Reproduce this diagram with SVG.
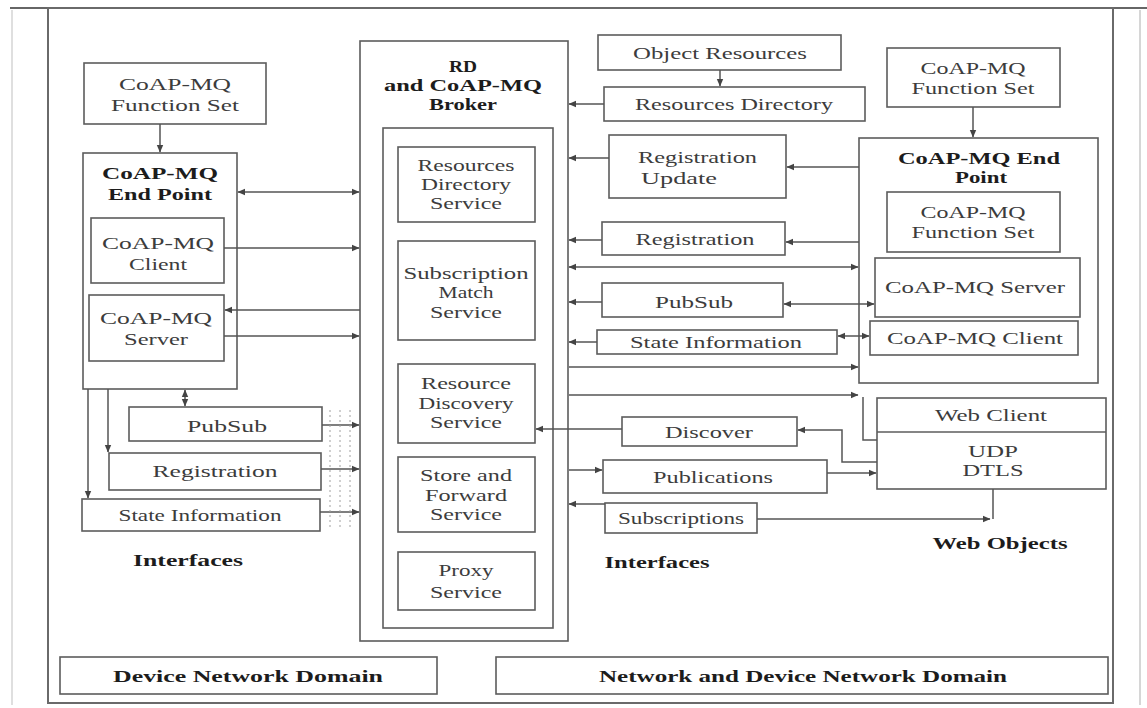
<svg xmlns="http://www.w3.org/2000/svg" width="1147" height="708" viewBox="0 0 1147 708">
  <style>
    .frame { fill: none; stroke: #6a6a6a; stroke-width: 2; }
    .box { fill: none; stroke: #5c5c5c; stroke-width: 1.6; }
    .c { fill: none; stroke: #555; stroke-width: 1.5; }
    .hatch { fill: none; stroke: #a0a0a0; stroke-width: 1; stroke-dasharray: 2 3; }
    .t { font-family: "Liberation Serif", "Times New Roman", serif; font-size: 17px; fill: #3c3c3c; text-anchor: middle; }
    .l { text-anchor: start; }
    .b { font-weight: bold; fill: #1c1c1c; }
  </style>
  <defs>
    <marker id="arr" markerUnits="userSpaceOnUse" markerWidth="8" markerHeight="8" refX="7" refY="4" orient="auto-start-reverse">
      <path d="M0,0.8 L7.5,4 L0,7.2 z" fill="#444"/>
    </marker>
  </defs>

  <rect width="1147" height="708" fill="#ffffff"/>

  <!-- page frame -->
  <g id="frame">
    <line x1="10" y1="8" x2="1147" y2="8" stroke="#666" stroke-width="2.2"/>
    <line x1="12" y1="10" x2="12" y2="705" stroke="#d4d4d4" stroke-width="1.5"/>
    <line x1="1140" y1="10" x2="1140" y2="705" stroke="#c8c8c8" stroke-width="1.5"/>
    <rect class="frame" x="48" y="8" width="1065" height="695"/>
  </g>

  <!-- left device side -->
  <g id="left-function-set">
    <rect class="box" x="84" y="63" width="182" height="61"/>
    <text class="t" x="175" y="90" textLength="112" lengthAdjust="spacingAndGlyphs">CoAP-MQ</text>
    <text class="t" x="175" y="111" textLength="128" lengthAdjust="spacingAndGlyphs">Function Set</text>
  </g>
  <g id="left-end-point">
    <rect class="box" x="83" y="153" width="154" height="236"/>
    <text class="t b" x="160" y="179" textLength="116" lengthAdjust="spacingAndGlyphs">CoAP-MQ</text>
    <text class="t b" x="160" y="200" textLength="104" lengthAdjust="spacingAndGlyphs">End Point</text>
  </g>
  <g id="left-client">
    <rect class="box" x="91" y="218" width="133" height="65"/>
    <text class="t" x="158" y="249" textLength="112" lengthAdjust="spacingAndGlyphs">CoAP-MQ</text>
    <text class="t" x="158" y="270" textLength="58" lengthAdjust="spacingAndGlyphs">Client</text>
  </g>
  <g id="left-server">
    <rect class="box" x="89" y="295" width="135" height="66"/>
    <text class="t" x="156" y="324" textLength="112" lengthAdjust="spacingAndGlyphs">CoAP-MQ</text>
    <text class="t" x="156" y="345" textLength="64" lengthAdjust="spacingAndGlyphs">Server</text>
  </g>
  <g id="left-pubsub">
    <rect class="box" x="129" y="407" width="193" height="34"/>
    <text class="t" x="227" y="432" textLength="80" lengthAdjust="spacingAndGlyphs">PubSub</text>
  </g>
  <g id="left-registration">
    <rect class="box" x="109" y="453" width="212" height="37"/>
    <text class="t" x="215" y="477" textLength="125" lengthAdjust="spacingAndGlyphs">Registration</text>
  </g>
  <g id="left-state-information">
    <rect class="box" x="82" y="499" width="238" height="32"/>
    <text class="t" x="200" y="521" textLength="163" lengthAdjust="spacingAndGlyphs">State Information</text>
  </g>
  <g id="left-interfaces-label">
    <text class="t b" x="188" y="566" textLength="110" lengthAdjust="spacingAndGlyphs">Interfaces</text>
  </g>

  <!-- broker -->
  <g id="broker">
    <rect class="box" x="360" y="41" width="208" height="600"/>
    <text class="t b" x="463" y="72" textLength="28" lengthAdjust="spacingAndGlyphs">RD</text>
    <text class="t b" x="463" y="91" textLength="158" lengthAdjust="spacingAndGlyphs">and CoAP-MQ</text>
    <text class="t b" x="463" y="110" textLength="68" lengthAdjust="spacingAndGlyphs">Broker</text>
    <rect class="box" x="383" y="128" width="170" height="500"/>
  </g>
  <g id="resource-directory-service">
    <rect class="box" x="398" y="147" width="137" height="75"/>
    <text class="t" x="466" y="171" textLength="97" lengthAdjust="spacingAndGlyphs">Resources</text>
    <text class="t" x="466" y="190" textLength="90" lengthAdjust="spacingAndGlyphs">Directory</text>
    <text class="t" x="466" y="209" textLength="72" lengthAdjust="spacingAndGlyphs">Service</text>
  </g>
  <g id="subscription-match-service">
    <rect class="box" x="398" y="241" width="137" height="99"/>
    <text class="t" x="466" y="279" textLength="125" lengthAdjust="spacingAndGlyphs">Subscription</text>
    <text class="t" x="466" y="298" textLength="55" lengthAdjust="spacingAndGlyphs">Match</text>
    <text class="t" x="466" y="318" textLength="72" lengthAdjust="spacingAndGlyphs">Service</text>
  </g>
  <g id="resource-discovery-service">
    <rect class="box" x="398" y="364" width="137" height="79"/>
    <text class="t" x="466" y="389" textLength="90" lengthAdjust="spacingAndGlyphs">Resource</text>
    <text class="t" x="466" y="409" textLength="95" lengthAdjust="spacingAndGlyphs">Discovery</text>
    <text class="t" x="466" y="428" textLength="72" lengthAdjust="spacingAndGlyphs">Service</text>
  </g>
  <g id="store-forward-service">
    <rect class="box" x="398" y="457" width="137" height="75"/>
    <text class="t" x="466" y="481" textLength="92" lengthAdjust="spacingAndGlyphs">Store and</text>
    <text class="t" x="466" y="501" textLength="82" lengthAdjust="spacingAndGlyphs">Forward</text>
    <text class="t" x="466" y="520" textLength="72" lengthAdjust="spacingAndGlyphs">Service</text>
  </g>
  <g id="proxy-service">
    <rect class="box" x="398" y="552" width="137" height="58"/>
    <text class="t" x="466" y="576" textLength="55" lengthAdjust="spacingAndGlyphs">Proxy</text>
    <text class="t" x="466" y="598" textLength="72" lengthAdjust="spacingAndGlyphs">Service</text>
  </g>

  <!-- network-side interfaces -->
  <g id="object-resources">
    <rect class="box" x="598" y="35" width="243" height="35"/>
    <text class="t" x="720" y="59" textLength="174" lengthAdjust="spacingAndGlyphs">Object Resources</text>
  </g>
  <g id="resources-directory">
    <rect class="box" x="604" y="87" width="261" height="34"/>
    <text class="t" x="734" y="110" textLength="198" lengthAdjust="spacingAndGlyphs">Resources Directory</text>
  </g>
  <g id="registration-update">
    <rect class="box" x="609" y="135" width="177" height="63"/>
    <text class="t l" x="638" y="163" textLength="119" lengthAdjust="spacingAndGlyphs">Registration</text>
    <text class="t l" x="641" y="184" textLength="76" lengthAdjust="spacingAndGlyphs">Update</text>
  </g>
  <g id="right-registration">
    <rect class="box" x="602" y="222" width="183" height="33"/>
    <text class="t" x="695" y="245" textLength="119" lengthAdjust="spacingAndGlyphs">Registration</text>
  </g>
  <g id="right-pubsub">
    <rect class="box" x="602" y="283" width="181" height="34"/>
    <text class="t" x="694" y="308" textLength="78" lengthAdjust="spacingAndGlyphs">PubSub</text>
  </g>
  <g id="right-state-information">
    <rect class="box" x="597" y="330" width="240" height="24"/>
    <text class="t" x="716" y="348" textLength="172" lengthAdjust="spacingAndGlyphs">State Information</text>
  </g>
  <g id="discover">
    <rect class="box" x="622" y="417" width="175" height="29"/>
    <text class="t" x="709" y="438" textLength="88" lengthAdjust="spacingAndGlyphs">Discover</text>
  </g>
  <g id="publications">
    <rect class="box" x="603" y="460" width="224" height="33"/>
    <text class="t" x="713" y="483" textLength="120" lengthAdjust="spacingAndGlyphs">Publications</text>
  </g>
  <g id="subscriptions">
    <rect class="box" x="605" y="503" width="152" height="30"/>
    <text class="t" x="681" y="524" textLength="126" lengthAdjust="spacingAndGlyphs">Subscriptions</text>
  </g>
  <g id="right-interfaces-label">
    <text class="t b" x="657" y="568" textLength="105" lengthAdjust="spacingAndGlyphs">Interfaces</text>
  </g>

  <!-- right device side -->
  <g id="right-function-set">
    <rect class="box" x="887" y="48" width="173" height="59"/>
    <text class="t" x="973" y="74" textLength="105" lengthAdjust="spacingAndGlyphs">CoAP-MQ</text>
    <text class="t" x="973" y="94" textLength="123" lengthAdjust="spacingAndGlyphs">Function Set</text>
  </g>
  <g id="right-end-point">
    <rect class="box" x="859" y="138" width="239" height="245"/>
    <text class="t b" x="979" y="164" textLength="162" lengthAdjust="spacingAndGlyphs">CoAP-MQ End</text>
    <text class="t b" x="981" y="183" textLength="52" lengthAdjust="spacingAndGlyphs">Point</text>
  </g>
  <g id="right-inner-function-set">
    <rect class="box" x="887" y="192" width="173" height="60"/>
    <text class="t" x="973" y="218" textLength="105" lengthAdjust="spacingAndGlyphs">CoAP-MQ</text>
    <text class="t" x="973" y="238" textLength="123" lengthAdjust="spacingAndGlyphs">Function Set</text>
  </g>
  <g id="right-server">
    <rect class="box" x="875" y="258" width="205" height="59"/>
    <text class="t" x="975" y="293" textLength="180" lengthAdjust="spacingAndGlyphs">CoAP-MQ Server</text>
  </g>
  <g id="right-client">
    <rect class="box" x="870" y="321" width="208" height="34"/>
    <text class="t" x="975" y="344" textLength="176" lengthAdjust="spacingAndGlyphs">CoAP-MQ Client</text>
  </g>
  <g id="web-objects">
    <rect class="box" x="877" y="398" width="229" height="91"/>
    <line class="box" x1="877" y1="432" x2="1106" y2="432"/>
    <text class="t" x="991" y="421" textLength="112" lengthAdjust="spacingAndGlyphs">Web Client</text>
    <text class="t" x="993" y="457" textLength="50" lengthAdjust="spacingAndGlyphs">UDP</text>
    <text class="t" x="993" y="476" textLength="61" lengthAdjust="spacingAndGlyphs">DTLS</text>
    <text class="t b" x="1000" y="549" textLength="135" lengthAdjust="spacingAndGlyphs">Web Objects</text>
  </g>

  <!-- domains -->
  <g id="device-network-domain">
    <rect class="box" x="60" y="657" width="377" height="37"/>
    <text class="t b" x="248" y="682" textLength="270" lengthAdjust="spacingAndGlyphs">Device Network Domain</text>
  </g>
  <g id="network-device-network-domain">
    <rect class="box" x="496" y="657" width="612" height="37"/>
    <text class="t b" x="803" y="682" textLength="408" lengthAdjust="spacingAndGlyphs">Network and Device Network Domain</text>
  </g>

  <!-- connectors -->
  <g id="connectors">
    <!-- left side -->
    <line class="c" x1="160" y1="124" x2="160" y2="152" marker-end="url(#arr)"/>
    <line class="c" x1="238" y1="192" x2="359" y2="192" marker-start="url(#arr)" marker-end="url(#arr)"/>
    <line class="c" x1="224" y1="248" x2="359" y2="248" marker-end="url(#arr)"/>
    <line class="c" x1="360" y1="310" x2="225" y2="310" marker-end="url(#arr)"/>
    <line class="c" x1="224" y1="336" x2="359" y2="336" marker-end="url(#arr)"/>
    <line class="c" x1="185" y1="390" x2="185" y2="406" marker-start="url(#arr)" marker-end="url(#arr)"/>
    <line class="c" x1="108" y1="389" x2="108" y2="452" marker-end="url(#arr)"/>
    <line class="c" x1="88" y1="389" x2="88" y2="498" marker-end="url(#arr)"/>
    <line class="c" x1="322" y1="425" x2="359" y2="425" marker-end="url(#arr)"/>
    <line class="c" x1="321" y1="469" x2="359" y2="469" marker-end="url(#arr)"/>
    <line class="c" x1="320" y1="512" x2="359" y2="512" marker-end="url(#arr)"/>
    <line class="hatch" x1="330" y1="410" x2="330" y2="530"/>
    <line class="hatch" x1="340" y1="410" x2="340" y2="530"/>
    <line class="hatch" x1="350" y1="410" x2="350" y2="530"/>

    <!-- right side -->
    <line class="c" x1="720" y1="70" x2="720" y2="86" marker-end="url(#arr)"/>
    <line class="c" x1="604" y1="104" x2="569" y2="104" marker-end="url(#arr)"/>
    <line class="c" x1="609" y1="158" x2="569" y2="158" marker-end="url(#arr)"/>
    <line class="c" x1="859" y1="167" x2="787" y2="167" marker-end="url(#arr)"/>
    <line class="c" x1="602" y1="240" x2="569" y2="240" marker-end="url(#arr)"/>
    <line class="c" x1="859" y1="242" x2="786" y2="242" marker-end="url(#arr)"/>
    <line class="c" x1="569" y1="267" x2="858" y2="267" marker-start="url(#arr)" marker-end="url(#arr)"/>
    <line class="c" x1="602" y1="302" x2="569" y2="302" marker-end="url(#arr)"/>
    <line class="c" x1="784" y1="304" x2="874" y2="304" marker-start="url(#arr)" marker-end="url(#arr)"/>
    <line class="c" x1="597" y1="342" x2="569" y2="342" marker-end="url(#arr)"/>
    <line class="c" x1="838" y1="336" x2="869" y2="336" marker-start="url(#arr)" marker-end="url(#arr)"/>
    <line class="c" x1="569" y1="367" x2="858" y2="367" marker-end="url(#arr)"/>
    <line class="c" x1="569" y1="395" x2="858" y2="395" marker-end="url(#arr)"/>
    <polyline class="c" points="863,397 863,440 877,440"/>
    <line class="c" x1="622" y1="429" x2="536" y2="429" marker-end="url(#arr)"/>
    <polyline class="c" points="877,462 842,462 842,430 798,430" marker-end="url(#arr)"/>
    <line class="c" x1="569" y1="470" x2="602" y2="470" marker-end="url(#arr)"/>
    <line class="c" x1="827" y1="473" x2="876" y2="473" marker-end="url(#arr)"/>
    <line class="c" x1="605" y1="504" x2="569" y2="504" marker-end="url(#arr)"/>
    <line class="c" x1="757" y1="519" x2="990" y2="519" marker-end="url(#arr)"/>
    <line class="c" x1="993" y1="489" x2="993" y2="519"/>
    <line class="c" x1="973" y1="107" x2="973" y2="137" marker-end="url(#arr)"/>
  </g>
</svg>
